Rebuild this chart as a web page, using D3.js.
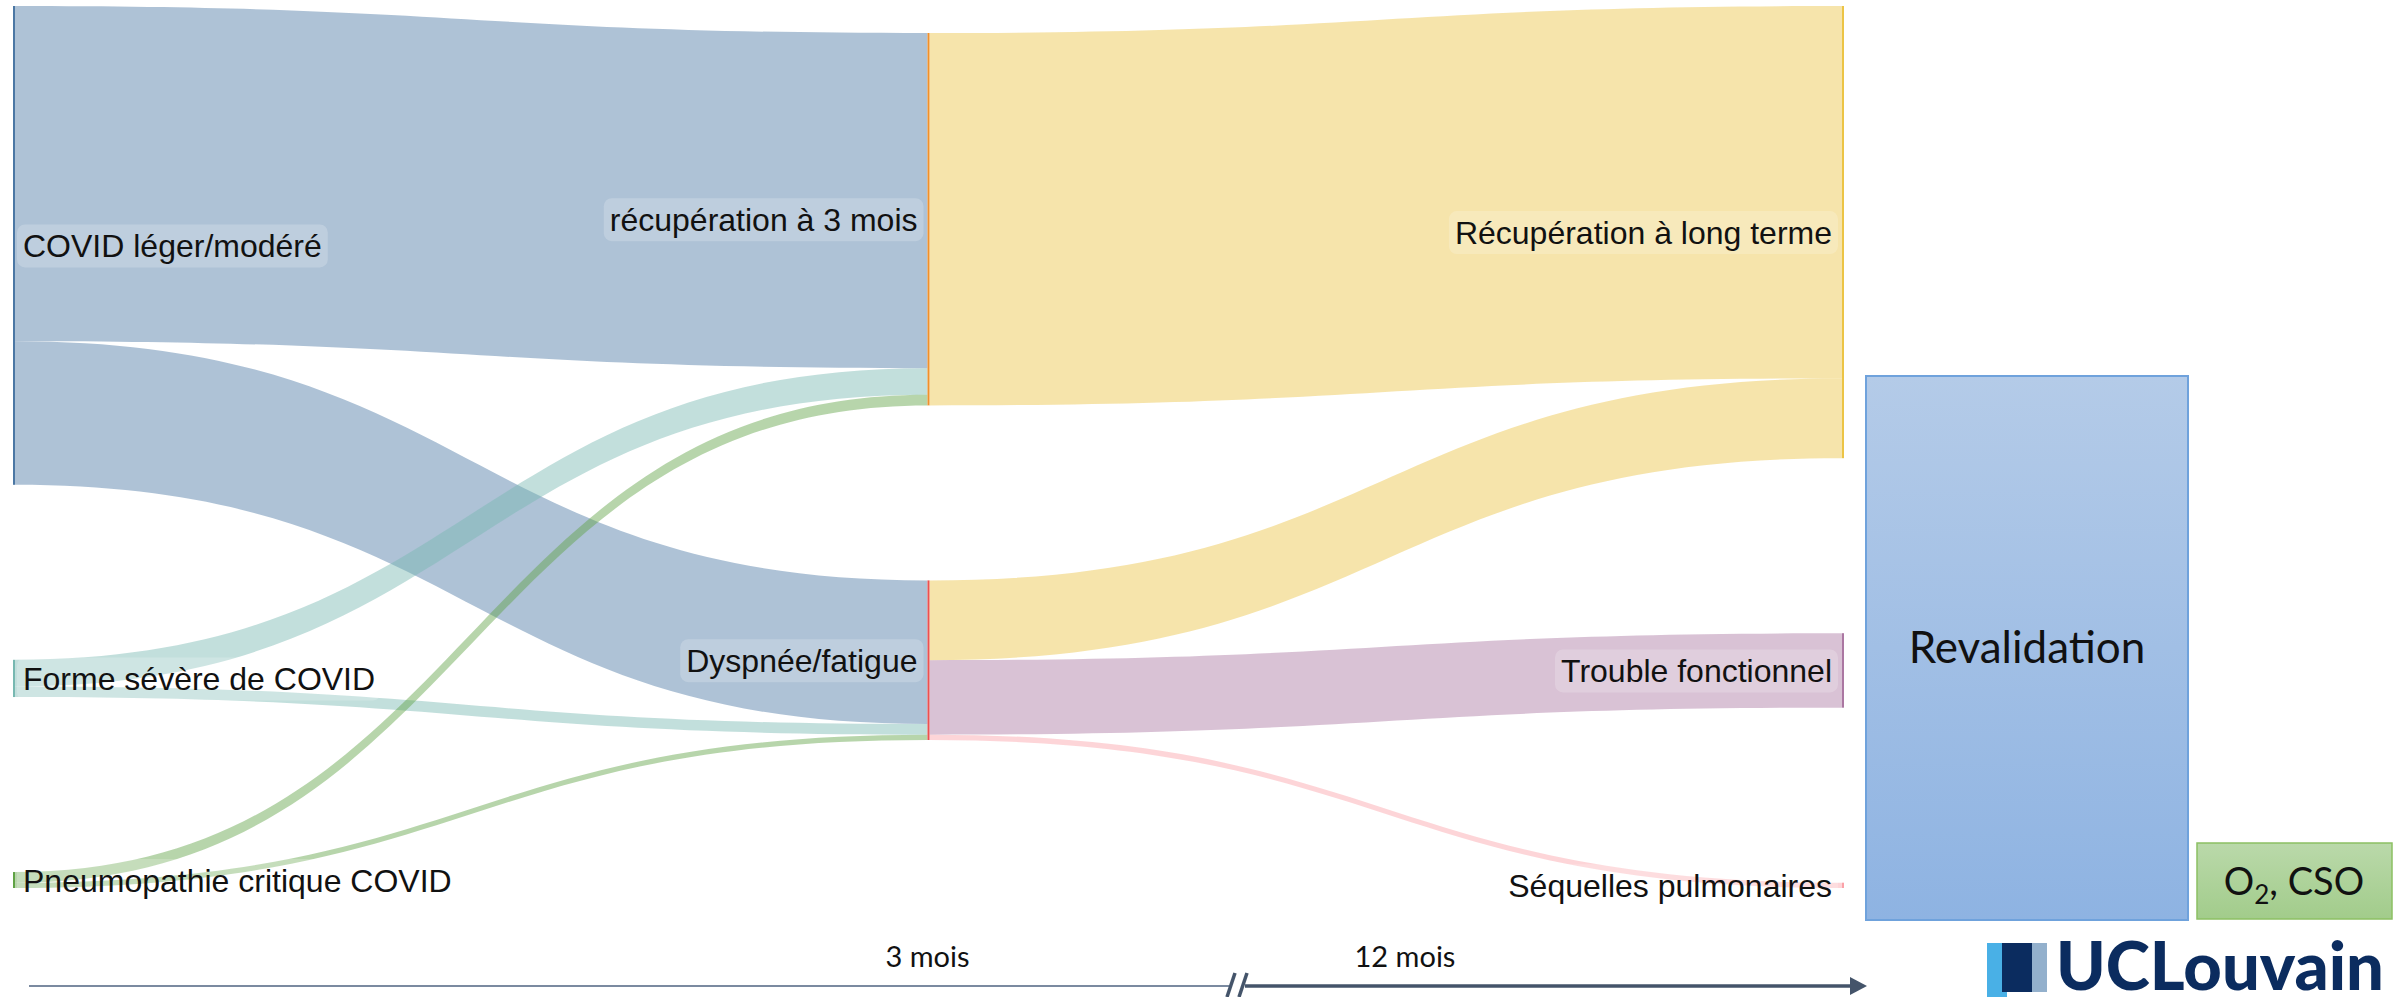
<!DOCTYPE html>
<html>
<head>
<meta charset="utf-8">
<script src="https://cdn.jsdelivr.net/npm/d3@7"></script>
<style>
  body { margin: 0; background: #fff; }
  svg { display: block; }
  .lbl { font-family: "Liberation Sans", Arial, sans-serif; font-size: 32px; fill: #111; }
  .cal { font-family: Lato, "Open Sans", sans-serif; fill: #111; }
</style>
</head>
<body>
<div class="chart"></div>
<script>
// sankey data (values in % of patients)
var nodeNames = [
  "COVID léger/modéré",
  "Forme sévère de COVID",
  "Pneumopathie critique COVID",
  "récupération à 3 mois",
  "Dyspnée/fatigue",
  "Récupération à long terme",
  "Trouble fonctionnel",
  "Séquelles pulmonaires"
];
var nodeColumns = [0, 0, 0, 1, 1, 2, 2, 2];
var linkSources = [0, 0, 1, 1, 2, 2, 3, 4, 4, 4];
var linkTargets = [3, 4, 3, 4, 3, 4, 5, 5, 6, 7];
var linkValues  = [63, 27, 5, 2, 2, 1, 70, 15, 14, 1];

var timelineLabels = ["3 mois", "12 mois"];
var sideBoxLabels = ["Revalidation", "CSO"];

function init() {
  var w = 2399;
  var h = 997;
  var top = 6, bottom = 888;
  var nodePad = 175;
  var nodeW = 2;
  var colShift = [0, 27, 0];

  var nodeColors = ["#4b77a4", "#77b8b1", "#5fa244", "#f0902c", "#ec5050", "#ecc445", "#ab77a2", "#fba2a8"];

  var svg = d3.select(".chart")
    .append("svg")
    .attr("width", w)
    .attr("height", h);

  var defs = svg.append("defs");
  var gBlue = defs.append("linearGradient").attr("id", "gBlue")
    .attr("x1", 0).attr("y1", 0).attr("x2", 0).attr("y2", 1);
  gBlue.append("stop").attr("offset", "0%").attr("stop-color", "#b4cbe8");
  gBlue.append("stop").attr("offset", "100%").attr("stop-color", "#8eb3e2");
  var gGreen = defs.append("linearGradient").attr("id", "gGreen")
    .attr("x1", 0).attr("y1", 0).attr("x2", 0).attr("y2", 1);
  gGreen.append("stop").attr("offset", "0%").attr("stop-color", "#bad9aa");
  gGreen.append("stop").attr("offset", "100%").attr("stop-color", "#a2cc8b");

  // build nodes and links
  var nodes = nodeNames.map(function(name, i) {
    return { name: name, i: i, col: nodeColumns[i], inV: 0, outV: 0 };
  });
  var links = linkValues.map(function(v, i) {
    return { source: nodes[linkSources[i]], target: nodes[linkTargets[i]], value: v };
  });
  links.forEach(function(l) {
    l.source.outV += l.value;
    l.target.inV += l.value;
  });
  nodes.forEach(function(n) {
    n.value = Math.max(n.inV, n.outV);
  });

  var cols = d3.groups(nodes, function(d) { return d.col; }).map(function(d) { return d[1]; });
  var maxN = d3.max(cols, function(c) { return c.length; });
  var maxSum = d3.max(cols, function(c) { return d3.sum(c, function(n) { return n.value; }); });

  var xScale = d3.scaleLinear().domain([0, 2]).range([13, 1842]);
  var yScale = d3.scaleLinear()
    .domain([0, maxSum])
    .range([0, bottom - top - (maxN - 1) * nodePad]);

  cols.forEach(function(c, ci) {
    var y = top + colShift[ci];
    c.forEach(function(n) {
      n.x0 = xScale(ci);
      n.x1 = n.x0 + nodeW;
      n.y0 = y;
      n.y1 = y + yScale(n.value);
      y = n.y1 + nodePad;
    });
  });

  nodes.forEach(function(n) {
    var outs = links.filter(function(l) { return l.source === n; })
      .sort(function(a, b) { return a.target.i - b.target.i; });
    var y = n.y0;
    outs.forEach(function(l) { l.sy0 = y; y += yScale(l.value); l.sy1 = y; });
    var ins = links.filter(function(l) { return l.target === n; })
      .sort(function(a, b) { return a.source.i - b.source.i; });
    y = n.y0;
    ins.forEach(function(l) { l.ty0 = y; y += yScale(l.value); l.ty1 = y; });
  });

  function bandPath(l) {
    var x0 = l.source.x1, x1 = l.target.x0, xm = (x0 + x1) / 2;
    var p = d3.path();
    p.moveTo(x0, l.sy0);
    p.bezierCurveTo(xm, l.sy0, xm, l.ty0, x1, l.ty0);
    p.lineTo(x1, l.ty1);
    p.bezierCurveTo(xm, l.ty1, xm, l.sy1, x0, l.sy1);
    p.closePath();
    return p.toString();
  }

  // links: first stage coloured by source, second stage by target
  svg.append("g")
    .selectAll("path")
    .data(links)
    .enter()
    .append("path")
    .attr("d", bandPath)
    .style("fill", function(d) {
      return d.source.col === 0 ? nodeColors[d.source.i] : nodeColors[d.target.i];
    })
    .style("fill-opacity", 0.45);

  svg.append("g")
    .selectAll("rect")
    .data(nodes)
    .enter()
    .append("rect")
    .attr("x", function(d) { return d.x0; })
    .attr("y", function(d) { return d.y0; })
    .attr("width", nodeW)
    .attr("height", function(d) { return d.y1 - d.y0; })
    .style("fill", function(d) { return nodeColors[d.i]; });

  // labels with soft rounded background
  var lbl = svg.append("g")
    .selectAll("g")
    .data(nodes)
    .enter()
    .append("g");

  lbl.append("rect")
    .attr("rx", 8)
    .style("fill", "#fff")
    .style("fill-opacity", 0.2);

  lbl.append("text")
    .attr("class", "lbl")
    .attr("x", function(d) { return d.col === 0 ? d.x1 + 8 : d.x0 - 10; })
    .attr("y", function(d) { return (d.y0 + d.y1) / 2; })
    .attr("dy", "0.36em")
    .attr("text-anchor", function(d) { return d.col === 0 ? "start" : "end"; })
    .text(function(d) { return d.name; });

  lbl.each(function(d) {
    var bb = d3.select(this).select("text").node().getBBox();
    var cy = (d.y0 + d.y1) / 2;
    d3.select(this).select("rect")
      .attr("x", bb.x - 6)
      .attr("y", cy - 21)
      .attr("width", bb.width + 12)
      .attr("height", 43);
  });

  // timeline
  var tl = svg.append("g");
  tl.append("line")
    .attr("x1", 29).attr("x2", 1229)
    .attr("y1", 986).attr("y2", 986)
    .style("stroke", "#7b8aa0").style("stroke-width", 2);
  tl.append("line")
    .attr("x1", 1245).attr("x2", 1852)
    .attr("y1", 986).attr("y2", 986)
    .style("stroke", "#44546a").style("stroke-width", 3.5);
  tl.append("path")
    .attr("d", "M1867,986L1850,977L1850,995Z")
    .style("fill", "#44546a");
  [1231, 1243].forEach(function(x) {
    tl.append("line")
      .attr("x1", x + 4).attr("y1", 973)
      .attr("x2", x - 4).attr("y2", 997)
      .style("stroke", "#44546a").style("stroke-width", 3.5);
  });
  tl.selectAll("text")
    .data(timelineLabels)
    .enter()
    .append("text")
    .attr("class", "cal")
    .attr("x", function(d, i) { return i === 0 ? xScale(1) : 1405; })
    .attr("y", 967)
    .attr("text-anchor", "middle")
    .style("font-size", "29px")
    .text(function(d) { return d; });

  // Revalidation box
  svg.append("rect")
    .attr("x", 1866).attr("y", 376)
    .attr("width", 322).attr("height", 544)
    .style("fill", "url(#gBlue)")
    .style("stroke", "#6fa2dc").style("stroke-width", 2);
  svg.append("text")
    .attr("class", "cal")
    .attr("x", 2027).attr("y", 663)
    .attr("text-anchor", "middle")
    .style("font-size", "44px")
    .text(sideBoxLabels[0]);

  // O2, CSO box
  svg.append("rect")
    .attr("x", 2197).attr("y", 843)
    .attr("width", 195).attr("height", 76)
    .style("fill", "url(#gGreen)")
    .style("stroke", "#8cc063").style("stroke-width", 1.5);
  var o2 = svg.append("text")
    .attr("class", "cal")
    .attr("x", 2294).attr("y", 895)
    .attr("text-anchor", "middle")
    .style("font-size", "38px");
  o2.append("tspan").text("O");
  o2.append("tspan").attr("dy", 9).style("font-size", "26px").text("2");
  o2.append("tspan").attr("dy", -9).text(", " + sideBoxLabels[1]);

  // UCLouvain logo
  var logo = svg.append("g");
  logo.append("rect").attr("x", 1987).attr("y", 943).attr("width", 20).attr("height", 54).style("fill", "#49b0e6");
  logo.append("rect").attr("x", 2002).attr("y", 943).attr("width", 30).attr("height", 49).style("fill", "#0b2c5f");
  logo.append("rect").attr("x", 2032).attr("y", 943).attr("width", 15).attr("height", 49).style("fill", "#93b0cc");
  logo.append("text")
    .attr("x", 2056).attr("y", 990)
    .attr("textLength", 328)
    .attr("lengthAdjust", "spacingAndGlyphs")
    .style("font-family", "Lato, sans-serif")
    .style("font-weight", 900)
    .style("font-size", "66px")
    .style("fill", "#0b2c5f")
    .text("UCLouvain");
}

window.onload = init;
</script>
</body>
</html>
